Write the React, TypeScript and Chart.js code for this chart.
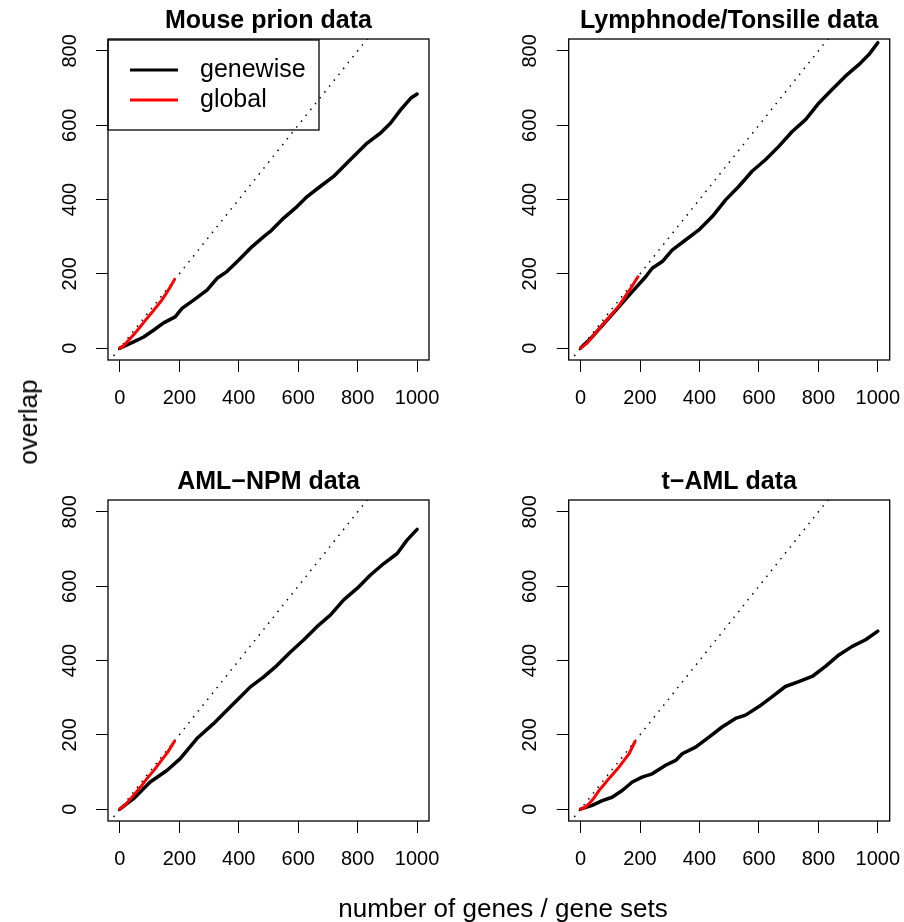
import React, { useEffect, useRef } from "react";
import { Chart, registerables } from "chart.js";
Chart.register(...registerables);

// ---- data ----
const xTicks = [0, 200, 400, 600, 800, 1000];
const yTicks = [0, 200, 400, 600, 800];
const xLimits = [-40, 1040];
const yLimits = [-32, 832];
const diagonal = [-100, 1100];
const seriesLabels = ["genewise", "global"];
const titles = ["Mouse prion data", "Lymphnode/Tonsille data", "AML\u2212NPM data", "t\u2212AML data"];

const mouseGenewiseX = [0, 46, 80, 113, 147, 186, 209, 248, 293, 327, 360, 400, 439, 484, 506, 551, 596, 630, 674, 719, 764, 798, 832, 877, 911, 945, 979, 1000];
const mouseGenewiseY = [0, 17, 30, 48, 68, 84, 107, 129, 156, 188, 206, 237, 269, 300, 314, 350, 381, 408, 435, 462, 498, 525, 552, 579, 606, 642, 673, 684];
const mouseGlobalX = [0, 12, 28, 55, 85, 112, 140, 158, 170, 184];
const mouseGlobalY = [0, 6, 20, 44, 74, 100, 128, 150, 165, 185];

const lymphGenewiseX = [0, 39, 84, 129, 174, 219, 241, 275, 308, 353, 398, 443, 488, 532, 577, 622, 667, 712, 757, 802, 846, 891, 936, 970, 1000];
const lymphGenewiseY = [0, 30, 71, 111, 152, 192, 215, 233, 264, 291, 318, 354, 399, 435, 476, 507, 543, 583, 615, 660, 696, 732, 763, 790, 822];
const lymphGlobalX = [0, 20, 50, 80, 107, 130, 151, 172, 193];
const lymphGlobalY = [0, 12, 40, 68, 93, 115, 140, 165, 192];

const npmGenewiseX = [0, 46, 102, 158, 203, 259, 315, 360, 405, 439, 484, 529, 574, 618, 663, 708, 753, 798, 843, 888, 933, 966, 1000];
const npmGenewiseY = [0, 28, 73, 104, 136, 190, 230, 266, 302, 329, 356, 387, 423, 455, 491, 522, 563, 594, 630, 661, 688, 724, 753];
const npmGlobalX = [0, 20, 46, 70, 91, 115, 136, 160, 184];
const npmGlobalY = [0, 13, 37, 60, 82, 105, 127, 152, 183];

const tamlGenewiseX = [0, 39, 73, 106, 140, 174, 207, 241, 286, 320, 342, 387, 432, 476, 521, 555, 600, 645, 689, 734, 779, 824, 869, 914, 959, 1000];
const tamlGenewiseY = [0, 10, 23, 32, 50, 73, 86, 95, 118, 131, 149, 167, 194, 221, 244, 253, 276, 303, 330, 343, 357, 384, 415, 438, 456, 479];
const tamlGlobalX = [0, 15, 28, 45, 62, 80, 95, 112, 129, 146, 163, 183];
const tamlGlobalY = [0, 5, 14, 30, 50, 67, 82, 97, 113, 131, 149, 182];

const panelData = [
  { gx: mouseGenewiseX, gy: mouseGenewiseY, rx: mouseGlobalX, ry: mouseGlobalY },
  { gx: lymphGenewiseX, gy: lymphGenewiseY, rx: lymphGlobalX, ry: lymphGlobalY },
  { gx: npmGenewiseX, gy: npmGenewiseY, rx: npmGlobalX, ry: npmGlobalY },
  { gx: tamlGenewiseX, gy: tamlGenewiseY, rx: tamlGlobalX, ry: tamlGlobalY },
];

// ---- layout / style ----
const FONT = '"Liberation Sans", Arial, Helvetica, sans-serif';
const CW = 452;
const CH = 461;
const panelLayout = [
  { left: 0, top: 0, axisW: 108, padR: 23 },
  { left: 452, top: 0, axisW: 116.7, padR: 14.3 },
  { left: 0, top: 461, axisW: 108, padR: 23 },
  { left: 452, top: 461, axisW: 116.7, padR: 14.3 },
];

const boxPlugin = {
  id: "plotBox",
  afterDraw(chart: any) {
    const { ctx, chartArea } = chart;
    ctx.save();
    ctx.strokeStyle = "#000";
    ctx.lineWidth = 1.3;
    ctx.strokeRect(chartArea.left, chartArea.top, chartArea.right - chartArea.left, chartArea.bottom - chartArea.top);
    ctx.restore();
  },
};

const legendPlugin = {
  id: "rLegend",
  afterDatasetsDraw(chart: any) {
    const { ctx, chartArea } = chart;
    const items = chart.data.datasets.filter((d: any) => seriesLabels.includes(d.label));
    const x0 = chartArea.left;
    const y0 = chartArea.top + 1;
    ctx.save();
    ctx.strokeStyle = "#000";
    ctx.lineWidth = 1.3;
    ctx.strokeRect(x0, y0, 211, 90);
    items.forEach((d: any, i: number) => {
      const y = y0 + 30 + i * 30;
      ctx.strokeStyle = d.borderColor;
      ctx.lineWidth = 3;
      ctx.beginPath();
      ctx.moveTo(x0 + 22, y);
      ctx.lineTo(x0 + 70, y);
      ctx.stroke();
      ctx.fillStyle = "#000";
      ctx.font = `25px ${FONT}`;
      ctx.textBaseline = "middle";
      ctx.textAlign = "left";
      ctx.fillText(d.label, x0 + 92, y);
    });
    ctx.restore();
  },
};

function Panel({ index }: { index: number }) {
  const ref = useRef<HTMLCanvasElement | null>(null);
  const lay = panelLayout[index];
  useEffect(() => {
    const d = panelData[index];
    const chart = new Chart(ref.current as HTMLCanvasElement, {
      type: "line",
      data: {
        datasets: [
          {
            label: seriesLabels[0],
            data: d.gx.map((x, i) => ({ x, y: d.gy[i] })),
            borderColor: "#000000",
            borderWidth: 3.5,
            pointRadius: 0,
            tension: 0,
            borderJoinStyle: "round",
            borderCapStyle: "round",
            order: 2,
          },
          {
            label: seriesLabels[1],
            data: d.rx.map((x, i) => ({ x, y: d.ry[i] })),
            borderColor: "#ff0000",
            borderWidth: 3,
            pointRadius: 0,
            tension: 0,
            borderJoinStyle: "round",
            borderCapStyle: "round",
            order: 1,
          },
          {
            label: "identity",
            data: diagonal.map((v) => ({ x: v, y: v })),
            borderColor: "#000000",
            borderWidth: 1.5,
            borderDash: [1.5, 6],
            pointRadius: 0,
            order: 3,
            clip: 0,
          } as any,
        ],
      },
      options: {
        responsive: false,
        animation: false,
        layout: { padding: { left: 0, right: lay.padR, top: 0, bottom: 0 } },
        plugins: {
          legend: { display: false },
          tooltip: { enabled: false },
          title: {
            display: true,
            text: titles[index],
            fullSize: false,
            color: "#000",
            font: { family: FONT, size: 25, weight: "bold", lineHeight: 1.2 },
            padding: { top: 6.3, bottom: 2.7 },
          },
        },
        scales: {
          x: {
            type: "linear",
            min: xLimits[0],
            max: xLimits[1],
            afterBuildTicks: (s: any) => {
              s.ticks = xTicks.map((v) => ({ value: v }));
            },
            afterFit: (s: any) => {
              s.height = CH - 360;
            },
            grid: { drawOnChartArea: false, drawTicks: true, tickLength: 12, color: "#000", tickColor: "#000", lineWidth: 1 },
            border: { display: false },
            ticks: {
              color: "#000",
              font: { family: FONT, size: 20, lineHeight: 2.64 },
              padding: 0,
              maxRotation: 0,
              minRotation: 0,
              autoSkip: false,
              callback: (v: any) => String(v),
            },
          },
          y: {
            type: "linear",
            min: yLimits[0],
            max: yLimits[1],
            afterBuildTicks: (s: any) => {
              s.ticks = yTicks.map((v) => ({ value: v }));
            },
            afterFit: (s: any) => {
              s.width = lay.axisW;
            },
            grid: { drawOnChartArea: false, drawTicks: true, tickLength: 12, color: "#000", tickColor: "#000", lineWidth: 1 },
            border: { display: false },
            ticks: {
              color: "#000",
              font: { family: FONT, size: 20 },
              padding: 9.2,
              minRotation: 90,
              maxRotation: 90,
              crossAlign: "center",
              autoSkip: false,
              callback: (v: any) => String(v),
            },
          },
        },
      } as any,
      plugins: index === 0 ? [boxPlugin, legendPlugin] : [boxPlugin],
    });
    return () => chart.destroy();
  }, [index]);
  return (
    <canvas
      ref={ref}
      width={CW}
      height={CH}
      style={{ position: "absolute", left: lay.left, top: lay.top, width: CW, height: CH }}
    />
  );
}

export default function App() {
  return (
    <div style={{ position: "absolute", left: 0, top: 0, width: 904, height: 922, background: "#fff", overflow: "hidden", fontFamily: FONT }}>
      {[0, 1, 2, 3].map((i) => (
        <Panel key={i} index={i} />
      ))}
      <div
        style={{
          position: "absolute",
          left: 28,
          top: 422,
          fontSize: 26,
          lineHeight: "26px",
          whiteSpace: "nowrap",
          color: "#000",
          transform: "translate(-50%, -50%) rotate(-90deg)",
        }}
      >
        overlap
      </div>
      <div
        style={{
          position: "absolute",
          left: 503,
          top: 894.7,
          fontSize: 26,
          lineHeight: "26px",
          whiteSpace: "nowrap",
          color: "#000",
          transform: "translateX(-50%)",
        }}
      >
        number of genes / gene sets
      </div>
    </div>
  );
}
